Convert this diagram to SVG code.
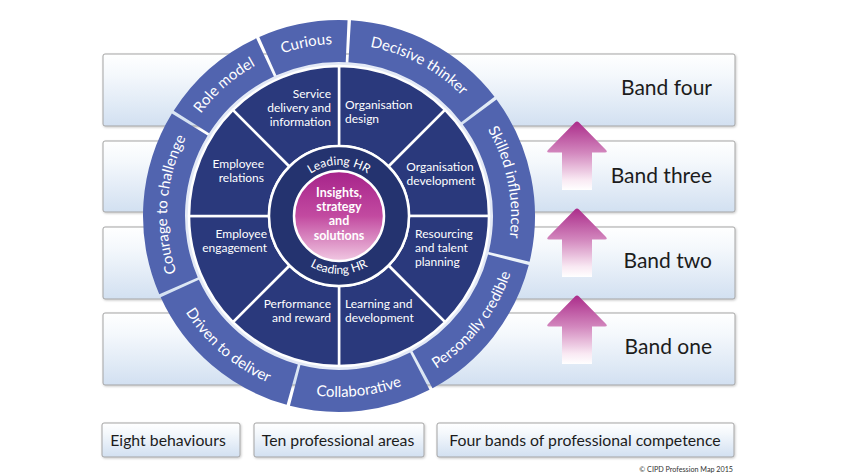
<svg xmlns="http://www.w3.org/2000/svg" xmlns:xlink="http://www.w3.org/1999/xlink" width="844" height="475" viewBox="0 0 844 475">
<defs>
  <linearGradient id="boxGrad" x1="0" y1="0" x2="0" y2="1">
    <stop offset="0" stop-color="#ffffff"/>
    <stop offset="0.3" stop-color="#f4f8fc"/>
    <stop offset="1" stop-color="#d2e0f1"/>
  </linearGradient>
  <linearGradient id="arrowGrad" x1="0" y1="0" x2="0" y2="1">
    <stop offset="0" stop-color="#ab2c8a"/>
    <stop offset="0.45" stop-color="#d286bd"/>
    <stop offset="0.85" stop-color="#f9e9f3"/>
    <stop offset="1" stop-color="#ffffff"/>
  </linearGradient>
  <linearGradient id="coreGrad" x1="0" y1="0" x2="0" y2="1">
    <stop offset="0" stop-color="#a6238a"/>
    <stop offset="0.5" stop-color="#c24aa0"/>
    <stop offset="1" stop-color="#f1c8e2"/>
  </linearGradient>
  <filter id="shadow" x="-5%" y="-10%" width="110%" height="125%">
    <feDropShadow dx="0.8" dy="1" stdDeviation="0.8" flood-color="#000" flood-opacity="0.22"/>
  </filter>
  <path id="arrowShape" d="M-2,1.5 Q0,-0.5 2,1.5 L29,29 Q31,31.5 28,31.5 L15,31.5 L15,69 L-15,69 L-15,31.5 L-28,31.5 Q-31,31.5 -29,29 Z"/>
  <!-- text paths: clockwise, baseline r=172 -->
  <path id="tp-curious" d="M267.67,59.48 A172,172 0 0 1 348.00,44.24"/>
  <path id="tp-decisive" d="M348.00,44.24 A172,172 0 0 1 476.36,112.49"/>
  <path id="tp-skilled" d="M476.36,112.49 A172,172 0 0 1 505.89,257.61"/>
  <path id="tp-role" d="M193.14,124.86 A172,172 0 0 1 267.67,59.48"/>
  <path id="tp-courage" d="M181.88,285.96 A172,172 0 0 1 193.14,124.86"/>
  <!-- counter-clockwise, baseline r=181 -->
  <path id="tp-personally" d="M423.98,375.81 A181,181 0 0 0 514.62,259.79"/>
  <path id="tp-collab" d="M292.15,390.83 A181,181 0 0 0 423.98,375.81"/>
  <path id="tp-driven" d="M173.65,289.62 A181,181 0 0 0 292.15,390.83"/>
  <path id="tp-lead-top" d="M294.83,190.5 A51,51 0 0 1 383.17,190.5"/>
  <path id="tp-lead-bot" d="M288.77,245 A58,58 0 0 0 389.23,245"/>
</defs>
<style>
  .box{fill:url(#boxGrad);stroke:#a4a4a4;stroke-width:1;filter:url(#shadow)}
  .band{font-family:Lato,"Open Sans",sans-serif;font-size:21px;fill:#1c1c1c;text-anchor:end}
  .legend{font-family:Lato,"Open Sans",sans-serif;font-size:15.8px;fill:#1c1c1c;text-anchor:middle}
  .beh{fill:#5164af}
  .behtxt{font-family:Lato,"Open Sans",sans-serif;font-size:15px;fill:#ffffff;text-anchor:middle}
  .area{fill:#2a397c;stroke:#ffffff;stroke-width:2.5;stroke-linejoin:round}
  .at{font-family:Lato,"Open Sans",sans-serif;font-size:12px;fill:#ffffff}
  .end{text-anchor:end}
  .mid{text-anchor:middle}
  .lead{fill:#24336f;stroke:#ffffff;stroke-width:2.5}
  .leadtxt{font-family:Lato,"Open Sans",sans-serif;font-size:12px;fill:#ffffff;text-anchor:middle}
  .core{fill:url(#coreGrad);stroke:#ffffff;stroke-width:2.5}
  .coretxt{font-family:Lato,"Open Sans",sans-serif;font-size:12.5px;font-weight:bold;fill:#ffffff;text-anchor:middle}
  .arrow{fill:url(#arrowGrad)}
  .copy{font-family:Lato,"Open Sans",sans-serif;font-size:7.2px;fill:#333333;text-anchor:end}
</style>

<!-- Bands -->
<g id="band-four"><rect class="box" x="103" y="54" width="632" height="72" rx="2"/><text class="band" x="712" y="95">Band four</text></g>
<g id="band-three"><rect class="box" x="103" y="141" width="632" height="71" rx="2"/><text class="band" x="712" y="183">Band three</text></g>
<g id="band-two"><rect class="box" x="103" y="227" width="632" height="72" rx="2"/><text class="band" x="712" y="268">Band two</text></g>
<g id="band-one"><rect class="box" x="103" y="313" width="632" height="72" rx="2"/><text class="band" x="712" y="354">Band one</text></g>

<!-- Connectors: progression arrows -->
<g id="connectors">
  <use xlink:href="#arrowShape" href="#arrowShape" class="arrow" transform="translate(577,121)"/>
  <use xlink:href="#arrowShape" href="#arrowShape" class="arrow" transform="translate(577,208)"/>
  <use xlink:href="#arrowShape" href="#arrowShape" class="arrow" transform="translate(577,295)"/>
</g>

<!-- Light gap circle -->
<circle cx="339" cy="216" r="154.5" fill="#e3e9f6"/>

<!-- Behaviours (outer ring) -->
<g id="beh-curious"><path class="beh" d="M259.28,36.94 A196,196 0 0 1 347.55,20.19 L345.72,62.15 A154,154 0 0 0 276.36,75.31 Z"/>
  <text class="behtxt"><textPath xlink:href="#tp-curious" href="#tp-curious" startOffset="50%">Curious</textPath></text></g>
<g id="beh-decisive-thinker"><path class="beh" d="M350.97,20.37 A196,196 0 0 1 494.50,96.68 L461.18,122.25 A154,154 0 0 0 348.40,62.29 Z"/>
  <text class="behtxt"><textPath xlink:href="#tp-decisive" href="#tp-decisive" startOffset="50%">Decisive thinker</textPath></text></g>
<g id="beh-skilled-influencer"><path class="beh" d="M496.56,99.42 A196,196 0 0 1 529.58,261.76 L488.74,251.95 A154,154 0 0 0 462.79,124.40 Z"/>
  <text class="behtxt"><textPath xlink:href="#tp-skilled" href="#tp-skilled" startOffset="50%">Skilled influencer</textPath></text></g>
<g id="beh-personally-credible"><path class="beh" d="M528.76,265.07 A196,196 0 0 1 432.52,388.25 L412.48,351.34 A154,154 0 0 0 488.10,254.56 Z"/>
  <text class="behtxt"><textPath xlink:href="#tp-personally" href="#tp-personally" startOffset="50%">Personally credible</textPath></text></g>
<g id="beh-collaborative"><path class="beh" d="M429.50,389.85 A196,196 0 0 1 289.93,405.76 L300.44,365.10 A154,154 0 0 0 410.11,352.60 Z"/>
  <text class="behtxt"><textPath xlink:href="#tp-collab" href="#tp-collab" startOffset="50%">Collaborative</textPath></text></g>
<g id="beh-driven-to-deliver"><path class="beh" d="M286.62,404.87 A196,196 0 0 1 160.65,297.28 L198.87,279.86 A154,154 0 0 0 297.85,364.40 Z"/>
  <text class="behtxt"><textPath xlink:href="#tp-driven" href="#tp-driven" startOffset="50%">Driven to deliver</textPath></text></g>
<g id="beh-courage-to-challenge"><path class="beh" d="M159.26,294.16 A196,196 0 0 1 171.88,113.59 L207.69,135.53 A154,154 0 0 0 197.77,277.41 Z"/>
  <text class="behtxt"><textPath xlink:href="#tp-courage" href="#tp-courage" startOffset="50%">Courage to challenge</textPath></text></g>
<g id="beh-role-model"><path class="beh" d="M173.70,110.69 A196,196 0 0 1 256.17,38.36 L273.92,76.43 A154,154 0 0 0 209.12,133.26 Z"/>
  <text class="behtxt"><textPath xlink:href="#tp-role" href="#tp-role" startOffset="50%">Role model</textPath></text></g>

<!-- Professional areas -->
<g id="area-organisation-design"><path class="area" d="M339,146 L339,66 A150,150 0 0 1 445.07,109.93 L388.5,166.5 A70,70 0 0 0 339,146 Z"/>
  <text class="at" x="345" y="109">Organisation</text><text class="at" x="345" y="123">design</text></g>
<g id="area-organisation-development"><path class="area" d="M388.5,166.5 L445.07,109.93 A150,150 0 0 1 489,216 L409,216 A70,70 0 0 0 388.5,166.5 Z"/>
  <text class="at mid" x="440" y="171">Organisation</text><text class="at mid" x="441" y="185">development</text></g>
<g id="area-resourcing"><path class="area" d="M409,216 L489,216 A150,150 0 0 1 445.07,322.07 L388.5,265.5 A70,70 0 0 0 409,216 Z"/>
  <text class="at" x="415" y="238">Resourcing</text><text class="at" x="415" y="252">and talent</text><text class="at" x="415" y="266">planning</text></g>
<g id="area-learning"><path class="area" d="M388.5,265.5 L445.07,322.07 A150,150 0 0 1 339,366 L339,286 A70,70 0 0 0 388.5,265.5 Z"/>
  <text class="at" x="345" y="308">Learning and</text><text class="at" x="345" y="322">development</text></g>
<g id="area-performance"><path class="area" d="M339,286 L339,366 A150,150 0 0 1 232.93,322.07 L289.5,265.5 A70,70 0 0 0 339,286 Z"/>
  <text class="at end" x="331" y="308">Performance</text><text class="at end" x="331" y="322">and reward</text></g>
<g id="area-employee-engagement"><path class="area" d="M289.5,265.5 L232.93,322.07 A150,150 0 0 1 189,216 L269,216 A70,70 0 0 0 289.5,265.5 Z"/>
  <text class="at end" x="267" y="238">Employee</text><text class="at end" x="267" y="252">engagement</text></g>
<g id="area-employee-relations"><path class="area" d="M269,216 L189,216 A150,150 0 0 1 232.93,109.93 L289.5,166.5 A70,70 0 0 0 269,216 Z"/>
  <text class="at end" x="264" y="168">Employee</text><text class="at end" x="264" y="182">relations</text></g>
<g id="area-service-delivery"><path class="area" d="M289.5,166.5 L232.93,109.93 A150,150 0 0 1 339,66 L339,146 A70,70 0 0 0 289.5,166.5 Z"/>
  <text class="at end" x="331" y="98">Service</text><text class="at end" x="331" y="112">delivery and</text><text class="at end" x="331" y="126">information</text></g>

<!-- Core -->
<g id="core-leading-hr">
  <circle class="lead" cx="339" cy="216" r="70"/>
  <text class="leadtxt"><textPath xlink:href="#tp-lead-top" href="#tp-lead-top" startOffset="50%">Leading HR</textPath></text>
  <text class="leadtxt"><textPath xlink:href="#tp-lead-bot" href="#tp-lead-bot" startOffset="50%">Leading HR</textPath></text>
</g>
<g id="core-insights">
  <circle class="core" cx="339" cy="216" r="45"/>
  <text class="coretxt" x="339" y="197">Insights,</text>
  <text class="coretxt" x="339" y="211">strategy</text>
  <text class="coretxt" x="339" y="225">and</text>
  <text class="coretxt" x="339" y="239.5">solutions</text>
</g>

<!-- Legend -->
<g id="legend-behaviours"><rect class="box" x="102" y="423" width="138" height="34" rx="2"/><text class="legend" x="168" y="446">Eight behaviours</text></g>
<g id="legend-areas"><rect class="box" x="254" y="423" width="170" height="34" rx="2"/><text class="legend" x="338" y="446">Ten professional areas</text></g>
<g id="legend-bands"><rect class="box" x="437" y="423" width="297" height="34" rx="2"/><text class="legend" x="585" y="446">Four bands of professional competence</text></g>

<text class="copy" x="733" y="471.5">© CIPD Profession Map 2015</text>
</svg>
